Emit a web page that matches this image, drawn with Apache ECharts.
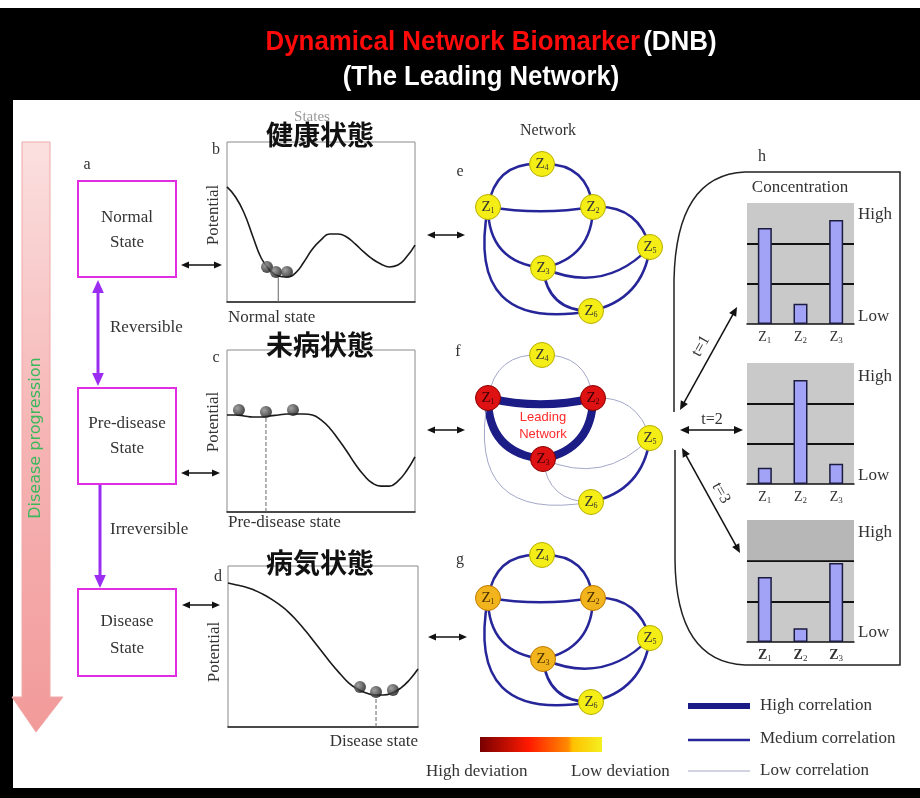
<!DOCTYPE html>
<html>
<head>
<meta charset="utf-8">
<script src="https://cdn.jsdelivr.net/npm/echarts@6/dist/echarts.min.js"></script>
<style>
  html, body { margin: 0; padding: 0; background: #fff; }
  #main { width: 920px; height: 798px; }
</style>
</head>
<body>
<div id="main"></div>
<script>
// ---- potential landscapes (23 samples, x = 0..22, y = 0..10) ----
var normalCurve = [7.19, 6.56, 5.56, 4.13, 2.75, 2.0, 1.63, 1.56, 1.81, 2.5, 3.31, 3.88, 4.25, 4.25, 4.06, 3.63, 3.13, 2.69, 2.38, 2.19, 2.31, 2.81, 3.56];
var preDiseaseCurve = [5.99, 5.99, 5.93, 5.86, 5.86, 5.93, 5.99, 6.05, 6.05, 6.05, 5.99, 5.68, 5.19, 4.51, 3.77, 2.96, 2.28, 1.79, 1.6, 1.6, 1.91, 2.53, 3.4];
var diseaseCurve = [8.94, 8.82, 8.70, 8.51, 8.26, 7.95, 7.58, 7.14, 6.58, 5.96, 5.28, 4.6, 3.91, 3.29, 2.73, 2.36, 2.11, 1.99, 1.99, 2.11, 2.42, 2.92, 3.6];

var normalBalls = [[4.68, 2.19], [5.73, 1.88], [7.02, 1.88]];
var preDiseaseBalls = [[1.40, 6.30], [4.56, 6.17], [7.72, 6.30]];
var diseaseBalls = [[15.28, 2.48], [17.14, 2.17], [19.1, 2.3]];

// state markers (x position, height of curve there)
var normalMark = [6.0, 1.6];
var preDiseaseMark = [4.56, 5.86];
var diseaseMark = [17.14, 1.99];

// ---- network ----
var nodeNames = ['Z1', 'Z2', 'Z3', 'Z4', 'Z5', 'Z6'];
var nodeX = [0, 105, 55, 54, 162, 103];
var nodeY = [0, 0, -61, 43, -40, -104];
var edgeList = [[0, 3], [3, 1], [0, 1], [0, 2], [1, 2], [1, 4], [2, 4], [2, 5], [4, 5], [0, 5]];
// correlation of each edge in the pre-disease network (f)
var corrF = ['low', 'low', 'high', 'high', 'high', 'low', 'low', 'low', 'medium', 'low'];
// deviation of each node
var devE = ['low', 'low', 'low', 'low', 'low', 'low'];
var devF = ['high', 'high', 'high', 'low', 'low', 'low'];
var devG = ['mid', 'mid', 'mid', 'low', 'low', 'low'];

// ---- concentrations ----
var barCats = ['Z1', 'Z2', 'Z3'];
var concT1 = [2.38, 0.5, 2.58];
var concT2 = [0.40, 2.58, 0.50];
var concT3 = [1.6, 0.34, 1.94];

var serif = "'Liberation Serif', 'Times New Roman', serif";
var sans = "'Liberation Sans', Arial, sans-serif";
var cjk = "'Noto Sans CJK JP', 'Noto Sans CJK SC', sans-serif";

var edgeCurve = [0.45, 0.45, -0.08, -0.45, 0.4, 0.4, -0.35, -0.45, 0.35, -0.72];
var edgeCurveF = [0.45, 0.45, -0.12, -0.45, 0.4, 0.4, -0.35, -0.45, 0.35, -0.72];
var corrStyle = {
  high: { width: 8, color: '#1c1c86' },
  medium: { width: 2.5, color: '#26269a' },
  low: { width: 1, color: '#a4a8c8' }
};
var devColor = {
  high: { color: '#de1212', borderColor: '#8a0000', text: '#3a0000' },
  mid: { color: '#f2b41c', borderColor: '#c07a00', text: '#4a3000' },
  low: { color: '#f4ee16', borderColor: '#b8ae00', text: '#333' }
};

var myChart = echarts.init(document.getElementById('main'));

function curveData(arr) {
  return arr.map(function (v, i) { return [i, v]; });
}

function arrow(x1, y1, x2, y2, color, width, head, both) {
  var dx = x2 - x1, dy = y2 - y1, len = Math.sqrt(dx * dx + dy * dy);
  var ux = dx / len, uy = dy / len, nx = -uy, ny = ux;
  var hw = head * 0.45;
  var els = [];
  function headAt(tx, ty, sx, sy) {
    var bx = tx - sx * head, by = ty - sy * head;
    els.push({
      type: 'polygon', silent: true,
      shape: { points: [[tx, ty], [bx + nx * hw, by + ny * hw], [bx - nx * hw, by - ny * hw]] },
      style: { fill: color }
    });
  }
  var sx1 = x1, sy1 = y1;
  if (both) { sx1 = x1 + ux * head * 0.8; sy1 = y1 + uy * head * 0.8; headAt(x1, y1, -ux, -uy); }
  headAt(x2, y2, ux, uy);
  els.unshift({
    type: 'line', silent: true,
    shape: { x1: sx1, y1: sy1, x2: x2 - ux * head * 0.8, y2: y2 - uy * head * 0.8 },
    style: { stroke: color, lineWidth: width }
  });
  return els;
}

function txt(x, y, text, font, color, align, extra) {
  var el = {
    type: 'text', x: x, y: y, silent: true,
    style: { text: text, font: font, fill: color || '#222', align: align || 'left', verticalAlign: 'middle' }
  };
  if (extra) { for (var k in extra) el[k] = extra[k]; }
  return el;
}

function nodeLabel(p) {
  return '{z|Z}{s|' + p.name.slice(1) + '}';
}

function graphSeries(idx, dev, corr, curves) {
  return {
    type: 'graph', coordinateSystem: 'cartesian2d',
    xAxisIndex: idx, yAxisIndex: idx,
    symbolSize: 25, z: 3,
    data: nodeNames.map(function (n, i) {
      var c = devColor[dev[i]];
      return {
        name: n, value: [nodeX[i], nodeY[i]],
        itemStyle: { color: c.color, borderColor: c.borderColor, borderWidth: 1 },
        label: { rich: { z: { color: c.text }, s: { color: c.text } } }
      };
    }),
    links: edgeList.map(function (e, i) {
      var s = corrStyle[corr ? corr[i] : 'medium'];
      return {
        source: e[0], target: e[1],
        lineStyle: { width: s.width, color: s.color, curveness: curves[i], opacity: 1 }
      };
    }),
    label: {
      show: true, position: 'inside', formatter: nodeLabel,
      rich: {
        z: { fontFamily: serif, fontSize: 15, color: '#333' },
        s: { fontFamily: serif, fontSize: 8, color: '#333', padding: [7, 0, 0, 0] }
      }
    },
    emphasis: { disabled: true }
  };
}

function barSeries(idx, values, band) {
  var s = {
    type: 'bar', xAxisIndex: idx, yAxisIndex: idx,
    data: values, barWidth: 14,
    itemStyle: { color: '#a2a2f6', borderColor: '#1c1c40', borderWidth: 1.5 },
    silent: true
  };
  if (band) {
    s.markArea = { silent: true, itemStyle: { color: 'rgba(150,150,150,0.35)' }, data: [[{ yAxis: 2 }, { yAxis: 3 }]] };
  }
  return s;
}

var grids = [
  { left: 227, top: 142, width: 188, height: 160 },
  { left: 227, top: 350, width: 188, height: 162 },
  { left: 228, top: 566, width: 190, height: 161 },
  { left: 468, top: 147, width: 200, height: 180 },
  { left: 468, top: 338, width: 200, height: 180 },
  { left: 468, top: 538, width: 200, height: 180 },
  { left: 747, top: 203, width: 107, height: 121 },
  { left: 747, top: 363, width: 107, height: 121 },
  { left: 747, top: 520, width: 107, height: 122 }
];
grids.forEach(function (g, i) {
  if (i < 3) { g.show = true; g.borderColor = '#8a8a8a'; g.borderWidth = 1; }
  if (i >= 6) { g.show = true; g.backgroundColor = '#c9c9c9'; g.borderWidth = 0; }
});

var xAxes = [], yAxes = [];
for (var i = 0; i < 3; i++) {
  xAxes.push({ gridIndex: i, type: 'value', min: 0, max: 22, axisLabel: { show: false }, axisTick: { show: false }, splitLine: { show: false }, axisLine: { lineStyle: { color: '#222', width: 1.6 } } });
  yAxes.push({ gridIndex: i, type: 'value', min: 0, max: 10, show: false });
}
for (var i = 3; i < 6; i++) {
  xAxes.push({ gridIndex: i, type: 'value', min: -20, max: 180, show: false });
  yAxes.push({ gridIndex: i, type: 'value', min: -120, max: 60, show: false });
}
var barBold = [false, false, true];
for (var i = 6; i < 9; i++) {
  xAxes.push({
    gridIndex: i, type: 'category', data: barCats,
    axisLine: { lineStyle: { color: '#111', width: 1.5 } },
    axisTick: { inside: true, length: 5, lineStyle: { color: '#111' } },
    axisLabel: {
      margin: 6, interval: 0, formatter: function (v) { return '{z|Z}{s|' + v.slice(1) + '}'; },
      rich: {
        z: { fontFamily: serif, fontSize: 14, color: '#333', fontWeight: barBold[i - 6] ? 'bold' : 'normal' },
        s: { fontFamily: serif, fontSize: 9, color: '#333', padding: [6, 0, 0, 0] }
      }
    }
  });
  yAxes.push({
    gridIndex: i, type: 'value', min: 0, max: 3, interval: 1,
    axisLine: { show: false }, axisTick: { show: false }, axisLabel: { show: false },
    splitLine: { show: true, lineStyle: { color: ['transparent', '#111', '#111', 'transparent'], width: 1.8 } }
  });
}

var ballStyle = {
  color: { type: 'radial', x: 0.35, y: 0.35, r: 0.7, colorStops: [{ offset: 0, color: '#8a8a8a' }, { offset: 1, color: '#111' }] }
};

var series = [];
[normalCurve, preDiseaseCurve, diseaseCurve].forEach(function (c, i) {
  series.push({ type: 'line', xAxisIndex: i, yAxisIndex: i, data: curveData(c), smooth: true, showSymbol: false, lineStyle: { color: '#1a1a1a', width: 1.6 }, silent: true });
});
[normalMark, preDiseaseMark, diseaseMark].forEach(function (m, i) {
  series.push({ type: 'line', xAxisIndex: i, yAxisIndex: i, data: [[m[0], 0], [m[0], m[1]]], showSymbol: false, lineStyle: { color: '#666', width: 1, type: i === 0 ? 'solid' : 'dashed' }, silent: true });
});
[normalBalls, preDiseaseBalls, diseaseBalls].forEach(function (b, i) {
  series.push({ type: 'scatter', xAxisIndex: i, yAxisIndex: i, data: b, symbolSize: 12, itemStyle: ballStyle, silent: true, z: 4 });
});
series.push(graphSeries(3, devE, null, edgeCurve));
series.push(graphSeries(4, devF, corrF, edgeCurveF));
series.push(graphSeries(5, devG, null, edgeCurve));
series.push(barSeries(6, concT1));
series.push(barSeries(7, concT2));
series.push(barSeries(8, concT3, true));

// ---- decorations ----
var g = [];
g.push({ type: 'rect', shape: { x: 0, y: 8, width: 920, height: 92 }, style: { fill: '#000' }, silent: true });
g.push({ type: 'rect', shape: { x: 0, y: 8, width: 13, height: 790 }, style: { fill: '#000' }, silent: true });
g.push({ type: 'rect', shape: { x: 0, y: 788, width: 920, height: 10 }, style: { fill: '#000' }, silent: true });
g.push({
  type: 'text', x: 491, y: 43, scaleX: 0.96, silent: true,
  style: {
    text: '{r|Dynamical Network Biomarker} {w|(DNB)}', align: 'center', verticalAlign: 'middle',
    rich: {
      r: { font: 'bold 27px ' + sans, fill: '#ff0a0a' },
      w: { font: 'bold 27px ' + sans, fill: '#fff' }
    }
  }
});
g.push(txt(481, 78, '(The Leading Network)', 'bold 27px ' + sans, '#fff', 'center', { scaleX: 0.95 }));

// disease progression arrow
g.push({
  type: 'polygon', silent: true,
  shape: { points: [[22, 142], [50, 142], [50, 697], [63, 697], [36, 732], [12, 697], [22, 697]] },
  style: {
    fill: { type: 'linear', x: 0, y: 0, x2: 0, y2: 1, colorStops: [{ offset: 0, color: '#fbe0e0' }, { offset: 0.5, color: '#f6b4b4' }, { offset: 1, color: '#f29a9a' }] },
    stroke: '#f0a8a8', lineWidth: 1
  }
});
g.push(txt(36, 438, 'Disease progression', '16px ' + "'DejaVu Sans', 'Noto Sans', sans-serif", '#3cb85c', 'center', { rotation: Math.PI / 2 }));

// state boxes
[[78, 181, 98, 96], [78, 388, 98, 96], [78, 589, 98, 87]].forEach(function (b) {
  g.push({ type: 'rect', silent: true, shape: { x: b[0], y: b[1], width: b[2], height: b[3] }, style: { fill: 'none', stroke: '#e22ee2', lineWidth: 2 } });
});
g.push(txt(127, 218, 'Normal', '17px ' + serif, '#333', 'center'));
g.push(txt(127, 243, 'State', '17px ' + serif, '#333', 'center'));
g.push(txt(127, 424, 'Pre-disease', '17px ' + serif, '#333', 'center'));
g.push(txt(127, 449, 'State', '17px ' + serif, '#333', 'center'));
g.push(txt(127, 622, 'Disease', '17px ' + serif, '#333', 'center'));
g.push(txt(127, 649, 'State', '17px ' + serif, '#333', 'center'));
g.push(txt(87, 165, 'a', '16px ' + serif, '#333', 'center'));
g.push(txt(110, 328, 'Reversible', '17px ' + serif, '#333', 'left'));
g.push(txt(110, 530, 'Irreversible', '17px ' + serif, '#333', 'left'));
g = g.concat(arrow(98, 280, 98, 386, '#9b2cf2', 3, 13, true));
g = g.concat(arrow(100, 485, 100, 588, '#9b2cf2', 3, 13, false));

// landscape labels
g.push(txt(312, 117, 'States', '15px ' + serif, '#999', 'center'));
g.push(txt(320, 135, '健康状態', 'bold 27px ' + cjk, '#111', 'center'));
g.push(txt(320, 345, '未病状態', 'bold 27px ' + cjk, '#111', 'center'));
g.push(txt(320, 563, '病気状態', 'bold 27px ' + cjk, '#111', 'center'));
g.push(txt(216, 150, 'b', '16px ' + serif, '#333', 'center'));
g.push(txt(216, 358, 'c', '16px ' + serif, '#333', 'center'));
g.push(txt(218, 577, 'd', '16px ' + serif, '#333', 'center'));
g.push(txt(214, 215, 'Potential', '17px ' + serif, '#333', 'center', { rotation: Math.PI / 2 }));
g.push(txt(214, 422, 'Potential', '17px ' + serif, '#333', 'center', { rotation: Math.PI / 2 }));
g.push(txt(215, 652, 'Potential', '17px ' + serif, '#333', 'center', { rotation: Math.PI / 2 }));
g.push(txt(228, 318, 'Normal state', '17px ' + serif, '#333', 'left'));
g.push(txt(228, 523, 'Pre-disease state', '17px ' + serif, '#333', 'left'));
g.push(txt(418, 742, 'Disease state', '17px ' + serif, '#333', 'right'));
g = g.concat(arrow(181, 265, 222, 265, '#111', 1.5, 8, true));
g = g.concat(arrow(181, 473, 220, 473, '#111', 1.5, 8, true));
g = g.concat(arrow(182, 605, 220, 605, '#111', 1.5, 8, true));

// network labels
g.push(txt(548, 131, 'Network', '16px ' + serif, '#333', 'center'));
g.push(txt(460, 172, 'e', '16px ' + serif, '#333', 'center'));
g.push(txt(458, 352, 'f', '16px ' + serif, '#333', 'center'));
g.push(txt(460, 560, 'g', '16px ' + serif, '#333', 'center'));
g = g.concat(arrow(427, 235, 465, 235, '#111', 1.5, 8, true));
g = g.concat(arrow(427, 430, 465, 430, '#111', 1.5, 8, true));
g = g.concat(arrow(428, 637, 467, 637, '#111', 1.5, 8, true));
g.push({ type: 'text', x: 543, y: 417, z: 100, silent: true, style: { text: 'Leading', font: '13px ' + sans, fill: '#ff2a2a', align: 'center', verticalAlign: 'middle' } });
g.push({ type: 'text', x: 543, y: 434, z: 100, silent: true, style: { text: 'Network', font: '13px ' + sans, fill: '#ff2a2a', align: 'center', verticalAlign: 'middle' } });

// deviation bar
g.push({
  type: 'rect', silent: true, shape: { x: 480, y: 737, width: 122, height: 15 },
  style: { fill: { type: 'linear', x: 0, y: 0, x2: 1, y2: 0, colorStops: [{ offset: 0, color: '#780000' }, { offset: 0.4, color: '#ff1a00' }, { offset: 0.72, color: '#ff8a00' }, { offset: 0.76, color: '#ffc000' }, { offset: 1, color: '#f4f020' }] } }
});
g.push(txt(426, 772, 'High deviation', '17px ' + serif, '#333', 'left'));
g.push(txt(571, 772, 'Low deviation', '17px ' + serif, '#333', 'left'));

// correlation legend
g.push({ type: 'line', silent: true, shape: { x1: 688, y1: 706, x2: 750, y2: 706 }, style: { stroke: '#1c1c86', lineWidth: 6 } });
g.push({ type: 'line', silent: true, shape: { x1: 688, y1: 740, x2: 750, y2: 740 }, style: { stroke: '#26269a', lineWidth: 2.5 } });
g.push({ type: 'line', silent: true, shape: { x1: 688, y1: 771, x2: 750, y2: 771 }, style: { stroke: '#a4a8c8', lineWidth: 1 } });
g.push(txt(760, 706, 'High correlation', '17px ' + serif, '#333', 'left'));
g.push(txt(760, 739, 'Medium correlation', '17px ' + serif, '#333', 'left'));
g.push(txt(760, 771, 'Low correlation', '17px ' + serif, '#333', 'left'));

// panel h outline
var hStroke = { stroke: '#222', lineWidth: 1.5, fill: 'none' };
g.push({ type: 'polyline', silent: true, shape: { points: [[745, 172], [900, 172], [900, 665], [745, 665]] }, style: hStroke });
g.push({ type: 'bezierCurve', silent: true, shape: { x1: 745, y1: 665, cpx1: 676, cpy1: 662, x2: 675, y2: 560 }, style: hStroke });
g.push({ type: 'line', silent: true, shape: { x1: 675, y1: 560, x2: 675, y2: 450 }, style: hStroke });
g.push({ type: 'line', silent: true, shape: { x1: 674, y1: 412, x2: 674, y2: 280 }, style: hStroke });
g.push({ type: 'bezierCurve', silent: true, shape: { x1: 674, y1: 280, cpx1: 676, cpy1: 175, x2: 745, y2: 172 }, style: hStroke });
g.push(txt(762, 157, 'h', '16px ' + serif, '#333', 'center'));
g.push(txt(800, 188, 'Concentration', '17px ' + serif, '#333', 'center'));
[[215, 317], [377, 476], [533, 633]].forEach(function (p) {
  g.push(txt(858, p[0], 'High', '17px ' + serif, '#333', 'left'));
  g.push(txt(858, p[1], 'Low', '17px ' + serif, '#333', 'left'));
});
g = g.concat(arrow(680, 410, 737, 307, '#111', 1.5, 9, true));
g = g.concat(arrow(680, 430, 743, 430, '#111', 1.5, 9, true));
g = g.concat(arrow(682, 448, 740, 553, '#111', 1.5, 9, true));
g.push(txt(701, 346, 't=1', '16px ' + serif, '#333', 'center', { rotation: 1.065 }));
g.push(txt(712, 420, 't=2', '16px ' + serif, '#333', 'center'));
g.push(txt(721, 493, 't=3', '16px ' + serif, '#333', 'center', { rotation: -1.065 }));

var option = {
  backgroundColor: '#fff',
  animation: false,
  grid: grids,
  xAxis: xAxes,
  yAxis: yAxes,
  series: series,
  graphic: g
};
myChart.setOption(option);
</script>
</body>
</html>
